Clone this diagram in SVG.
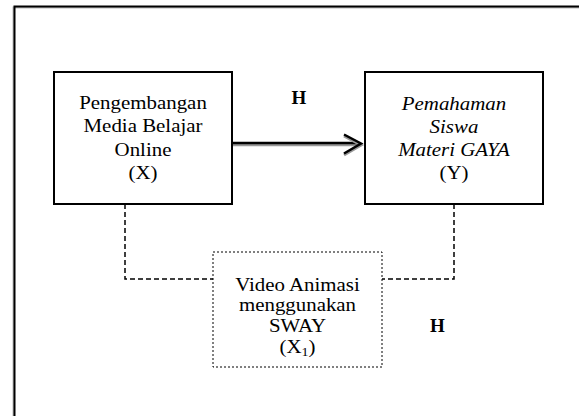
<svg xmlns="http://www.w3.org/2000/svg" width="579" height="416" viewBox="0 0 579 416">
<style>
.t{font-family:"Liberation Serif","Times New Roman",serif;font-size:19px;fill:#000;text-anchor:middle}
.s{font-size:18px}
.i{font-style:italic}
.b{font-weight:bold}
.box{fill:#fff;stroke:#000;stroke-width:2}
.dbox{fill:#fff;stroke:#000;stroke-width:1;stroke-dasharray:2 2}
.conn{fill:none;stroke:#000;stroke-width:1.5;stroke-dasharray:5 3}
</style>
<rect width="579" height="416" fill="#fff"/>
<rect x="14.5" y="6.5" width="620" height="460" fill="none" stroke="#bbb" stroke-width="2" transform="translate(-1,1)"/>
<rect x="14.5" y="6.5" width="620" height="460" fill="none" stroke="#000" stroke-width="2"/>
<g id="connectors">
<line x1="232" y1="145" x2="358" y2="145" stroke="#999" stroke-width="2.5"/>
<line x1="232" y1="143" x2="358" y2="143" stroke="#000" stroke-width="2.5"/>
<polyline points="344,134.5 361,143.5 344,153.5" fill="none" stroke="#999" stroke-width="3" transform="translate(0,1.5)"/>
<polyline points="344,134.5 361,143.5 344,153.5" fill="none" stroke="#000" stroke-width="2.5"/>
<polyline class="conn" points="125,204 125,279 213,279"/>
<polyline class="conn" points="454,204 454,279 382,279"/>
</g>
<g id="nodeX">
<rect class="box" x="54" y="72" width="178" height="132"/>
<g transform="translate(143,0) scale(1.1,1)">
<text class="t" x="0" y="109">Pengembangan</text>
<text class="t" x="0" y="132.5">Media Belajar</text>
<text class="t" x="0" y="156">Online</text>
<text class="t" x="0" y="179">(X)</text>
</g>
</g>
<g id="nodeY">
<rect class="box" x="365" y="72" width="178" height="132"/>
<g transform="translate(454,0) scale(1.1,1)">
<text class="t i" x="0" y="110">Pemahaman</text>
<text class="t i" x="0" y="133">Siswa</text>
<text class="t i" x="0" y="156.5">Materi GAYA</text>
<text class="t" x="0" y="179">(Y)</text>
</g>
</g>
<g id="nodeX1">
<rect class="dbox" x="213" y="252" width="169" height="115"/>
<g transform="translate(297.5,0) scale(1.16,1)">
<text class="t s" x="0" y="291">Video Animasi</text>
<text class="t s" x="0" y="311.5">menggunakan</text>
<text class="t s" x="0" y="332">SWAY</text>
<text class="t s" x="0" y="353">(X<tspan font-size="12" dy="3">1</tspan><tspan dy="-3">)</tspan></text>
</g>
</g>
<g id="labels">
<text class="t b" x="299" y="103.5">H</text>
<text class="t b" x="437.5" y="331.5">H</text>
</g>
</svg>
